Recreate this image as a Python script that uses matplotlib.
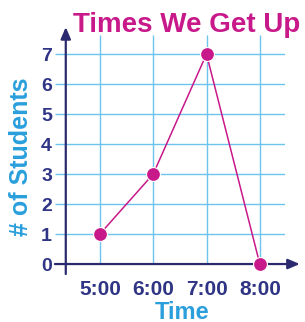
import matplotlib.pyplot as plt

# chart data
times = ['5:00', '6:00', '7:00', '8:00']
students = [1, 3, 7, 0]
y_ticks = [0, 1, 2, 3, 4, 5, 6, 7]

grid_col = '#6cc3ec'
axis_col = '#2b2a6e'
label_col = '#2f3485'
pink = '#c8198a'
blue = '#2a9fdb'

plt.rcParams['font.family'] = ['Liberation Sans', 'DejaVu Sans']

fig = plt.figure(figsize=(3.05, 3.22), dpi=100)
ax = fig.add_axes([0.180, 0.149, 0.754, 0.742])

xs = [5, 6, 7, 8]
ax.set_xlim(4.156, 8.47)
ax.set_ylim(-0.333, 7.633)

# grid drawn by hand so it stops at the x axis
ax.hlines(y_ticks[1:], 4.156, 8.47, color=grid_col, lw=1.0, zorder=1)
ax.vlines(xs, 0, 7.633, color=grid_col, lw=1.0, zorder=1)

# axes with arrows
ax.annotate('', xy=(8.75, 0), xytext=(4.156, 0), annotation_clip=False,
            arrowprops=dict(arrowstyle='-|>,head_length=0.7,head_width=0.3',
                            color=axis_col, lw=1.6, shrinkA=0, shrinkB=0))
ax.annotate('', xy=(4.36, 7.9), xytext=(4.36, -0.333), annotation_clip=False,
            arrowprops=dict(arrowstyle='-|>,head_length=0.7,head_width=0.3',
                            color=axis_col, lw=1.6, shrinkA=0, shrinkB=0))

ax.plot(xs, students, color=pink, lw=1.1, zorder=3)
ax.plot(xs, students, 'o', color=pink, markersize=10, markeredgecolor='white',
        markeredgewidth=0.8, zorder=4, clip_on=False)

for s in ax.spines.values():
    s.set_visible(False)

ax.set_xticks(xs)
ax.set_xticklabels(times)
ax.set_yticks(y_ticks)
ax.set_yticklabels([str(v) for v in y_ticks])
ax.tick_params(length=0, labelcolor=label_col)
ax.tick_params(axis='x', pad=4, labelsize=15)
ax.tick_params(axis='y', pad=2, labelsize=14)
for t in ax.get_xticklabels() + ax.get_yticklabels():
    t.set_fontweight('bold')

fig.text(0.597, 0.031, 'Time', ha='center', va='center',
         fontsize=17, fontweight='bold', color=blue)
fig.text(0.069, 0.512, '# of Students', ha='center', va='center', rotation=90,
         fontsize=18, fontweight='bold', color=blue)

fig.text(0.613, 0.90, 'Times We Get Up', ha='center', va='baseline',
         fontsize=20, fontweight='bold', color=pink)

fig.savefig('out.png', dpi=100)
